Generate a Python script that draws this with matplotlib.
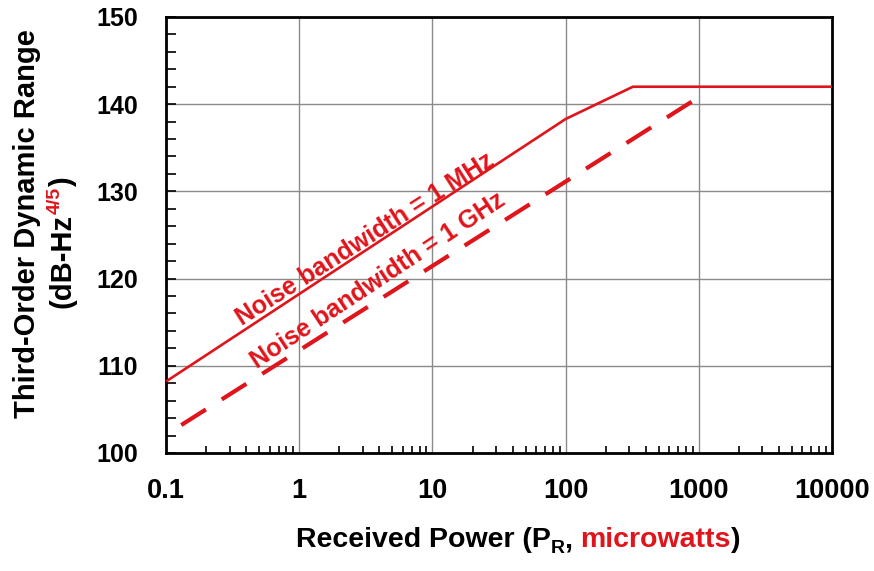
import matplotlib
matplotlib.use("Agg")
import matplotlib.pyplot as plt
from matplotlib.ticker import FixedLocator, NullFormatter, LogLocator
from matplotlib.transforms import IdentityTransform

plt.rcParams['font.family'] = ['Liberation Sans', 'DejaVu Sans']
plt.rcParams['font.weight'] = 'bold'

# Data
mhz_power = [0.1, 100, 320, 10000]
mhz_range = [108.2, 138.3, 142.0, 142.0]
ghz_power = [0.13, 1000]
ghz_range = [103.2, 140.8]

x_ticks = [0.1, 1, 10, 100, 1000, 10000]
x_tick_labels = ['0.1', '1', '10', '100', '1000', '10000']
y_ticks = [100, 110, 120, 130, 140, 150]

label_mhz = 'Noise bandwidth = 1 MHz'
label_ghz = 'Noise bandwidth = 1 GHz'

RED = '#e0141b'

fig = plt.figure(figsize=(8.74, 5.71), dpi=100)
ax = fig.add_axes([0.19, 0.2067, 0.762, 0.7636])

ax.set_xscale('log')
ax.set_xlim(0.1, 10000)
ax.set_ylim(100, 150)

ax.plot(mhz_power, mhz_range, color=RED, lw=1.9, solid_capstyle='butt', zorder=3)
ax.plot(ghz_power, ghz_range, color=RED, lw=3.0, dashes=(7, 4.5), dash_capstyle='butt', zorder=3)

ax.set_xticks(x_ticks)
ax.set_xticklabels(x_tick_labels)
ax.xaxis.set_minor_locator(LogLocator(base=10, subs=range(2, 10)))
ax.xaxis.set_minor_formatter(NullFormatter())
ax.set_yticks(y_ticks)
ax.yaxis.set_minor_locator(FixedLocator([v for v in range(100, 151, 2)]))

ax.grid(True, which='major', color='#8a8a8a', lw=1.0, zorder=1)
ax.tick_params(axis='both', which='both', direction='in', top=False, right=False, width=1.2, color='black')
ax.tick_params(axis='x', which='major', length=0, pad=18, labelsize=19.5)
ax.tick_params(axis='x', which='minor', length=5)
ax.tick_params(axis='y', which='major', length=7, pad=20, labelsize=18)
ax.tick_params(axis='y', which='minor', length=7)
for lab in ax.get_xticklabels() + ax.get_yticklabels():
    lab.set_fontweight('bold')
for s in ax.spines.values():
    s.set_linewidth(2.0)
    s.set_color('black')

ax.text(3.12, 124.5, label_mhz, color=RED, fontsize=18, fontweight='bold',
        rotation=32.5, rotation_mode='anchor', ha='center', va='center', zorder=4)
ax.text(3.9, 119.8, label_ghz, color=RED, fontsize=18, fontweight='bold',
        rotation=33.5, rotation_mode='anchor', ha='center', va='center', zorder=4)

fig.canvas.draw()
renderer = fig.canvas.get_renderer()
idt = IdentityTransform()

# X axis label built from pieces (pixel coords)
def hpieces(pieces, xc, yb):
    arts = []
    widths = []
    for txt, col, size, dy in pieces:
        t = fig.text(0, 0, txt, color=col, fontsize=size, fontweight='bold',
                     ha='left', va='baseline', transform=idt)
        widths.append(t.get_window_extent(renderer).width)
        arts.append((t, dy))
    total = sum(widths)
    x = xc - total / 2
    for (t, dy), w in zip(arts, widths):
        t.set_position((x, yb + dy))
        x += w

hpieces([('Received Power (P', 'black', 20.5, 0),
         ('R', 'black', 14, -6),
         (', ', 'black', 20.5, 0),
         ('microwatts', RED, 20.5, 0),
         (')', 'black', 20.5, 0)], 518, 24)

# Y axis label line 1
fig.text(35, 347, 'Third-Order Dynamic Range', color='black', fontsize=21, fontweight='bold',
         rotation=90, rotation_mode='anchor', ha='center', va='baseline', transform=idt)

# Y axis label line 2 built from pieces (rotated)
def vpieces(pieces, xb, yc):
    arts = []
    lens = []
    for txt, col, size, dx in pieces:
        t = fig.text(0, 0, txt, color=col, fontsize=size, fontweight='bold',
                     rotation=90, rotation_mode='anchor', ha='left', va='baseline', transform=idt)
        lens.append(t.get_window_extent(renderer).height)
        arts.append((t, dx))
    total = sum(lens)
    y = yc - total / 2
    for (t, dx), L in zip(arts, lens):
        t.set_position((xb + dx, y))
        y += L

vpieces([('(dB-Hz', 'black', 21, 0),
         ('4/5', RED, 14, -11),
         (')', 'black', 21, 0)], 71, 328)

fig.savefig('out.png', dpi=100)
